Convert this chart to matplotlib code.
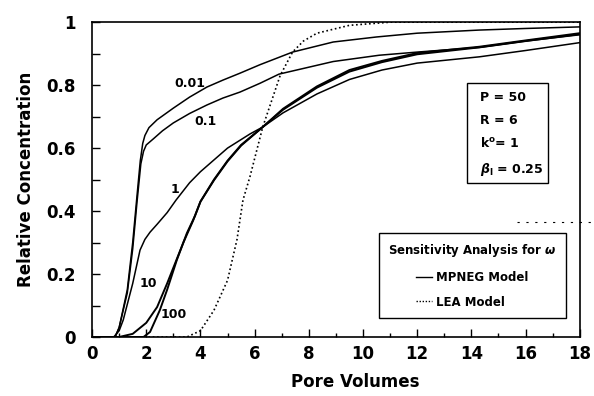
import matplotlib
matplotlib.use("Agg")
import matplotlib.pyplot as plt
from matplotlib.lines import Line2D
from matplotlib.patches import Rectangle

plt.rcParams['font.family'] = ['DejaVu Sans']
plt.rcParams['font.weight'] = 'bold'

# values (pore volumes, relative concentration)
x_001 = [0.0, 0.85, 1.0, 1.3, 1.5, 1.66, 1.78, 1.87, 1.95, 2.1, 2.4, 3.0, 3.6, 4.24, 4.83,
         5.46, 6.2, 7.4, 8.9, 10.5, 12.0, 14.3, 16.0, 18.0]
c_001 = [0.0, 0.0, 0.03, 0.15, 0.30, 0.45, 0.56, 0.615, 0.64, 0.665, 0.69, 0.727, 0.762, 0.794, 0.816,
         0.838, 0.865, 0.905, 0.937, 0.953, 0.965, 0.975, 0.98, 0.985]

x_01 = [0.0, 0.85, 1.0, 1.3, 1.5, 1.66, 1.8, 1.9, 2.0, 2.27, 2.6, 3.0, 3.6, 4.24, 4.83,
        5.46, 6.2, 6.9, 8.9, 10.6, 12.0, 14.3, 16.0, 18.0]
c_01 = [0.0, 0.0, 0.03, 0.14, 0.28, 0.43, 0.55, 0.59, 0.61, 0.63, 0.655, 0.68, 0.71, 0.737, 0.759,
        0.778, 0.806, 0.835, 0.875, 0.895, 0.905, 0.92, 0.94, 0.96]

x_1 = [0.0, 0.8, 1.0, 1.15, 1.5, 1.77, 1.95, 2.14, 2.4, 2.77, 3.1, 3.6, 4.0, 5.0, 5.83, 6.3,
       7.05, 8.3, 9.5, 10.7, 12.0, 14.3, 16.0, 18.0]
c_1 = [0.0, 0.0, 0.02, 0.054, 0.17, 0.276, 0.31, 0.333, 0.358, 0.395, 0.435, 0.49, 0.525, 0.60, 0.645, 0.667,
       0.712, 0.772, 0.818, 0.848, 0.87, 0.89, 0.91, 0.935]

x_10 = [0.0, 1.0, 1.5, 2.0, 2.4, 2.77, 3.0, 3.37, 3.73, 4.0, 4.5, 5.0, 5.5, 6.3,
        7.05, 8.3, 9.5, 10.7, 12.0, 14.3, 16.0, 18.0]
c_10 = [0.0, 0.0, 0.01, 0.045, 0.095, 0.17, 0.22, 0.30, 0.37, 0.43, 0.50, 0.56, 0.61, 0.667,
        0.722, 0.792, 0.843, 0.873, 0.898, 0.92, 0.94, 0.962]

x_100 = [0.0, 1.9, 2.14, 2.5, 2.77, 3.13, 3.5, 3.8, 4.0, 4.5, 5.0, 5.5, 6.3,
         7.05, 8.3, 9.5, 10.7, 12.0, 14.3, 16.0, 18.0]
c_100 = [0.0, 0.0, 0.016, 0.085, 0.15, 0.245, 0.33, 0.385, 0.43, 0.498, 0.558, 0.608, 0.667,
         0.725, 0.796, 0.848, 0.877, 0.902, 0.922, 0.942, 0.965]

x_lea = [0.0, 3.5, 4.0, 4.5, 5.0, 5.35, 5.57, 5.83, 6.3, 6.94, 7.4, 7.8, 8.3, 9.5, 11.0, 18.0]
c_lea = [0.0, 0.0, 0.02, 0.085, 0.18, 0.31, 0.435, 0.51, 0.667, 0.83, 0.905, 0.94, 0.965, 0.99, 1.0, 1.0]

omega_labels = ['0.01', '0.1', '1', '10', '100']
omega_label_xy = [(3.6, 0.806), (4.17, 0.683), (3.06, 0.467), (2.07, 0.171), (3.0, 0.073)]

params_text = ['P = 50', 'R = 6', r'k$^{\mathbf{o}}$= 1', r'$\beta_\mathrm{l}$ = 0.25']

fig = plt.figure(figsize=(5.94, 3.96), dpi=100)
ax = fig.add_axes([0.155, 0.149, 0.821, 0.795])

ax.plot(x_001, c_001, color='black', lw=1.1)
ax.plot(x_01, c_01, color='black', lw=1.1)
ax.plot(x_1, c_1, color='black', lw=1.1)
ax.plot(x_10, c_10, color='black', lw=1.4)
ax.plot(x_100, c_100, color='black', lw=1.4)
ax.plot(x_lea, c_lea, color='black', lw=1.2, linestyle=(0, (1, 1.6)))

for lab, (tx, ty) in zip(omega_labels, omega_label_xy):
    ax.text(tx, ty, lab, fontsize=9, fontweight='bold', ha='center', va='center')

ax.set_xlim(0, 18)
ax.set_ylim(0, 1)
ax.set_xticks(range(0, 19, 2))
ax.set_xticks(range(0, 19), minor=True)
ax.set_yticks([0, 0.2, 0.4, 0.6, 0.8, 1.0])
ax.set_yticklabels(['0', '0.2', '0.4', '0.6', '0.8', '1'])
ax.set_yticks([i / 10 for i in range(11)], minor=True)
ax.tick_params(which='both', direction='in', labelsize=12)
ax.tick_params(which='major', length=6, width=1.0)
ax.tick_params(axis='x', which='major', pad=6)
ax.tick_params(axis='y', which='major', pad=12)
ax.tick_params(axis='y', which='minor', length=6, width=1.0)
ax.tick_params(axis='x', which='minor', length=3, width=1.0)
for lbl in ax.get_xticklabels() + ax.get_yticklabels():
    lbl.set_fontweight('bold')
for sp in ax.spines.values():
    sp.set_linewidth(1.2)

ax.set_xlabel('Pore Volumes', fontsize=12, fontweight='bold')
ax.xaxis.set_label_coords(0.54, -0.115)
ax.set_ylabel('Relative Concentration', fontsize=12, fontweight='bold', labelpad=8)

# parameter box
ax.add_patch(Rectangle((0.768, 0.489), 0.166, 0.317, transform=ax.transAxes,
                       fill=False, edgecolor='black', lw=1.0))
for txt, ty in zip(params_text, [0.762, 0.689, 0.616, 0.533]):
    ax.text(0.795, ty, txt, transform=ax.transAxes, fontsize=9,
            fontweight='bold', va='center', ha='left')

# legend box
handles = [Line2D([], [], color='black', lw=1.0),
           Line2D([], [], color='black', lw=1.0, linestyle=(0, (1, 1.2)))]
leg = ax.legend(handles, ['MPNEG Model', 'LEA Model'],
                title=r'Sensitivity Analysis for $\omega$',
                loc='center', bbox_to_anchor=(0.780, 0.196),
                fontsize=8.5, title_fontproperties={'weight': 'bold', 'size': 8.5},
                frameon=True, fancybox=False, edgecolor='black', framealpha=1,
                handlelength=1.3, handletextpad=0.4, labelspacing=1.0,
                borderpad=0.8)
leg.get_frame().set_linewidth(1.0)
for t in leg.get_texts():
    t.set_fontweight('bold')

# stray dashed mark to the right of the plot in the scan
fig.add_artist(Line2D([0.87, 1.0], [1 - 222 / 396, 1 - 222 / 396], color='black',
                      lw=0.8, linestyle=(0, (2, 6))))

fig.savefig('out.png', dpi=100)
